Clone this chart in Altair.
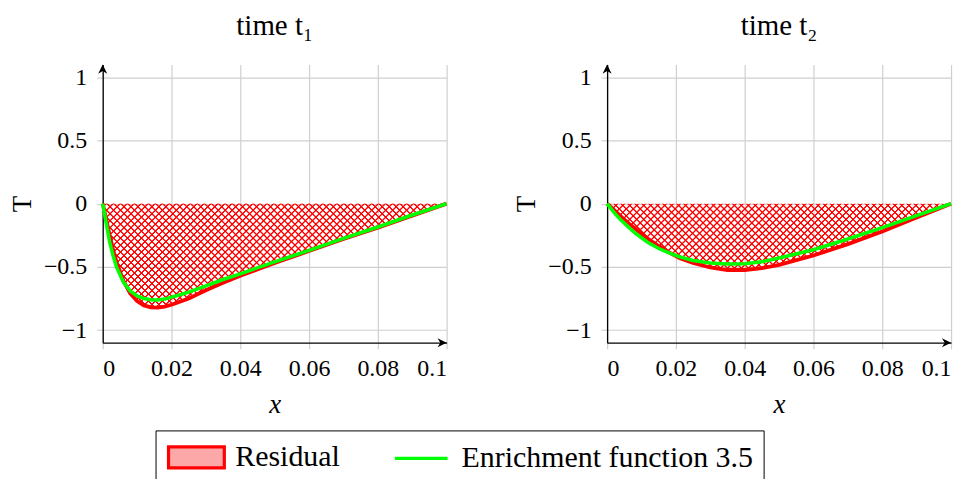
import altair as alt
import pandas as pd

# ---------------- data ----------------
X1 = [0, 0.001, 0.002, 0.003, 0.004, 0.006, 0.008, 0.010, 0.012, 0.014, 0.016, 0.018,
      0.020, 0.022, 0.025, 0.030, 0.035, 0.040, 0.050, 0.060, 0.070, 0.080, 0.090, 0.100]
RED1 = [0, -0.12, -0.25, -0.36, -0.46, -0.61, -0.71, -0.77, -0.805, -0.82, -0.822, -0.815,
        -0.80, -0.78, -0.75, -0.685, -0.625, -0.57, -0.47, -0.375, -0.28, -0.19, -0.095, 0]
GREEN1 = [0, -0.15, -0.30, -0.41, -0.50, -0.62, -0.69, -0.73, -0.75, -0.76, -0.762, -0.755,
          -0.74, -0.725, -0.70, -0.65, -0.60, -0.555, -0.46, -0.37, -0.275, -0.185, -0.09, 0]

X2 = [0, 0.002, 0.004, 0.006, 0.008, 0.010, 0.012, 0.015, 0.018, 0.021, 0.025, 0.030,
      0.035, 0.040, 0.045, 0.050, 0.060, 0.070, 0.080, 0.090, 0.100]
RED2 = [0, -0.05, -0.10, -0.15, -0.195, -0.24, -0.28, -0.335, -0.385, -0.43, -0.47, -0.505,
        -0.525, -0.525, -0.51, -0.485, -0.41, -0.32, -0.22, -0.11, 0]
GREEN2 = [0, -0.07, -0.13, -0.18, -0.23, -0.27, -0.31, -0.355, -0.39, -0.42, -0.45, -0.47,
          -0.478, -0.475, -0.46, -0.43, -0.365, -0.28, -0.19, -0.095, 0]

X_TICKS = [0, 0.02, 0.04, 0.06, 0.08, 0.1]
Y_TICKS = [-1, -0.5, 0, 0.5, 1]
X_DOMAIN = [0, 0.1]
Y_DOMAIN = [-1.1, 1.1]
SERIES = ["Residual", "Enrichment function 3.5"]
TITLES = ["time t\u2081", "time t\u2082"]

# ---------------- styling ----------------
W, H = 345, 279
FONT = "Liberation Serif"
RED = "#ff0000"
GREEN = "#00ff00"
CLEAR = "rgba(255,0,0,0)"
PERIOD = 7.0   # horizontal period of hatch lines (px)
CORE = 0.45    # half-width of the solid core of a hatch line (px)
RAMP = 1.0     # width of the anti-aliasing ramp on each side (px)


def hatch(xs, red, family):
    bw = W * (max(xs) - min(xs)) / (X_DOMAIN[1] - X_DOMAIN[0])
    bh = H * (-min(red)) / (Y_DOMAIN[1] - Y_DOMAIN[0])
    k = 1.03 * (bw + bh) / (bw + bh * bh / bw)
    L = k * (bw + bh * bh / bw)
    dt = PERIOD / L
    a = CORE / L
    r = RAMP / L
    stops = [alt.GradientStop(color=CLEAR, offset=0)]
    c = dt / 2
    while c + a + r < 1:
        stops += [alt.GradientStop(color=CLEAR, offset=c - a - r),
                  alt.GradientStop(color=RED, offset=c - a),
                  alt.GradientStop(color=RED, offset=c + a),
                  alt.GradientStop(color=CLEAR, offset=c + a + r)]
        c += dt
    stops.append(alt.GradientStop(color=CLEAR, offset=1))
    if family == 0:
        return alt.LinearGradient(gradient="linear", stops=stops,
                                  x1=0, y1=0, x2=k, y2=k * bh / bw)
    return alt.LinearGradient(gradient="linear", stops=stops,
                              x1=0, y1=1, x2=k, y2=1 - k * bh / bw)


SWATCH_PATH = "M-0.93,-0.7H2.8V0.7H-0.93Z"
LINE_PATH = "M-0.93,0H2.6"

legend = alt.Legend(
    orient="none", legendX=53, legendY=367, direction="horizontal", title=None,
    strokeColor="black", fillColor="white", padding=10,
    labelFont=FONT, labelFontSize=30, labelColor="black", labelOffset=36,
    labelLimit=500, columnPadding=48,
    symbolSize=900, symbolStrokeWidth=3.2,
    symbolType=alt.ExprRef(
        expr=f"datum.value === 'Residual' ? '{SWATCH_PATH}' : '{LINE_PATH}'"),
    symbolFillColor=alt.ExprRef(
        expr="datum.value === 'Residual' ? '#fca8a8' : 'transparent'"),
    symbolOpacity=1,
)


def panel(xs, red, green, title):
    df_red = pd.DataFrame({"x": xs, "T": red, "series": SERIES[0]})
    df_green = pd.DataFrame({"x": xs, "T": green, "series": SERIES[1]})
    xenc = alt.X("x:Q", scale=alt.Scale(domain=X_DOMAIN, nice=False, zero=False),
                 axis=alt.Axis(values=X_TICKS, format="~g", title="x",
                               labelFont=FONT, titleFont=FONT))
    yenc = alt.Y("T:Q", scale=alt.Scale(domain=Y_DOMAIN, nice=False, zero=False),
                 axis=alt.Axis(values=Y_TICKS, format="~g", title="T",
                               labelFont=FONT, titleFont=FONT))
    stroke = alt.Stroke("series:N", scale=alt.Scale(domain=SERIES, range=[RED, GREEN]),
                        legend=legend)
    area_a = alt.Chart(df_red).mark_area(fill=hatch(xs, red, 0), strokeWidth=0).encode(
        x=xenc, y=yenc, y2=alt.datum(0))
    area_b = alt.Chart(df_red).mark_area(fill=hatch(xs, red, 1), strokeWidth=0).encode(
        x=xenc, y=yenc, y2=alt.datum(0))
    line_r = alt.Chart(df_red).mark_line(strokeWidth=3.8).encode(x=xenc, y=yenc, stroke=stroke)
    line_g = alt.Chart(df_green).mark_line(strokeWidth=3.5).encode(x=xenc, y=yenc, stroke=stroke)
    arrow_x = alt.Chart().mark_point(
        shape="M0,0L-1,-0.5L-0.7,0L-1,0.5Z", filled=True, color="black", opacity=1, size=330
    ).encode(x=alt.datum(X_DOMAIN[1]), y=alt.datum(Y_DOMAIN[0]))
    arrow_y = alt.Chart().mark_point(
        shape="M0,0L-0.5,1L0,0.7L0.5,1Z", filled=True, color="black", opacity=1, size=330
    ).encode(x=alt.datum(X_DOMAIN[0]), y=alt.datum(Y_DOMAIN[1]))
    return alt.layer(area_a, area_b, line_r, line_g, arrow_x, arrow_y).properties(
        width=W, height=H, title=alt.TitleParams(title))


chart = alt.hconcat(
    panel(X1, RED1, GREEN1, TITLES[0]),
    panel(X2, RED2, GREEN2, TITLES[1]),
    spacing=161, bounds="flush",
).resolve_scale(stroke="shared").properties(
    padding={"left": 0, "top": 3, "right": 0, "bottom": 0}
).configure_view(stroke=None).configure_axis(
    labelFont=FONT, labelFontSize=24, labelColor="black",
    titleFont=FONT, titleFontSize=27, titleFontWeight="normal", titleColor="black",
    domainColor="black", domainWidth=1.3,
    grid=True, gridColor="#cfcfcf", gridWidth=1.2,
    ticks=True, tickColor="#cfcfcf", tickWidth=1.2, tickSize=6,
).configure_axisX(
    titleFontStyle="italic", labelPadding=8, titlePadding=11,
).configure_axisY(
    labelPadding=10, titlePadding=7,
).configure_title(
    font=FONT, fontSize=29, fontWeight="normal", color="black", offset=24, anchor="middle",
)

chart.save("out.html", embed_options={"renderer": "svg", "actions": False})
